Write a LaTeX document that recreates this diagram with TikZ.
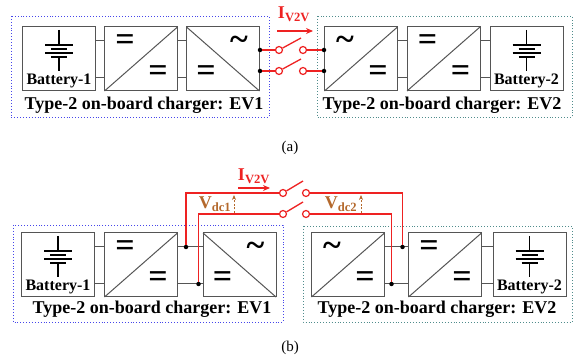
\documentclass[tikz,border=0pt]{standalone}
\usepackage{fontspec}
\setmainfont{Liberation Serif}
\usetikzlibrary{arrows.meta}
\definecolor{evred}{RGB}{238,34,34}
\definecolor{vbrown}{RGB}{180,105,45}
\definecolor{evblue}{RGB}{70,70,235}
\definecolor{evgreen}{RGB}{80,140,140}
\definecolor{boxgray}{RGB}{85,85,85}
\newcommand{\dcsym}{\fontsize{34}{34}\selectfont\bfseries =}
\newcommand{\acsym}{\fontsize{34}{34}\selectfont\bfseries\textasciitilde}

\begin{document}
\begin{tikzpicture}[x=1pt,y=-1pt,
  conv/.style={draw=boxgray,line width=1pt,minimum width=73pt,minimum height=64pt,inner sep=0pt},
  link/.style={draw=boxgray,line width=1pt},
  rwire/.style={draw=evred,line width=1.3pt},
  term/.style={circle,draw=evred,fill=white,line width=1.2pt,minimum size=7pt,inner sep=0pt},
  jdot/.style={circle,fill=black,minimum size=4.5pt,inner sep=0pt},
  ev1box/.style={draw=evblue,dotted,line width=0.9pt},
  ev2box/.style={draw=evgreen,dotted,line width=0.9pt},
  batlbl/.style={font=\bfseries\fontsize{16}{16}\selectfont,inner sep=1pt,anchor=south},
  evlbl/.style={font=\bfseries\fontsize{18}{18}\selectfont},
  cur/.style={evred,font=\bfseries\fontsize{18}{18}\selectfont},
  volt/.style={vbrown,font=\bfseries\fontsize{18}{18}\selectfont},
  iarrow/.style={evred,line width=1.8pt,-{Stealth[length=7pt,width=6pt]}},
  varrow/.style={vbrown,line width=1pt,dash pattern=on 2pt off 1.5pt,-{Stealth[length=5pt,width=4pt]}}]
  \useasboundingbox (0,0) rectangle (574,358);

  % (a) separate chargers
  \draw[ev1box] (11,16) rectangle (269,117);
  \draw[ev2box] (317,16) rectangle (572,117);
  \node[conv] (bat1) at (59,59) {};
  \node[conv] (dcdc1) at (141,59) {};
  \node[conv] (dcac1) at (223,59) {};
  \node[conv] (acdc2) at (361,59) {};
  \node[conv] (dcdc2) at (443.5,59) {};
  \node[conv] (bat2) at (526.5,59) {};
  %
  % (b) dc link
  \draw[ev1box] (13,225) rectangle (283,322);
  \draw[ev2box] (303,226) rectangle (572,322);
  \node[conv] (bat1b) at (58,265) {};
  \node[conv] (dcdc1b) at (141,265) {};
  \node[conv] (dcac1b) at (239.5,265) {};
  \node[conv] (acdc2b) at (348,265) {};
  \node[conv] (dcdc2b) at (445,265) {};
  \node[conv] (bat2b) at (529.5,265) {};
  %%%%%%%%%%%%%%%%%%%%%
  \foreach \l/\r in {bat1/dcdc1,dcdc1/dcac1,acdc2/dcdc2,dcdc2/bat2,
      bat1b/dcdc1b,dcdc1b/dcac1b,acdc2b/dcdc2b,dcdc2b/bat2b}{
    \draw[link] ([yshift=18pt]\l.east) -- ([yshift=18pt]\r.west);
    \draw[link] ([yshift=-19pt]\l.east) -- ([yshift=-19pt]\r.west);
  }
  \foreach \c/\k/\s/\t in {dcdc1/1/\dcsym/\dcsym,dcac1/-1/\acsym/\dcsym,
      acdc2/1/\acsym/\dcsym,dcdc2/1/\dcsym/\dcsym,
      dcdc1b/1/\dcsym/\dcsym,dcac1b/-1/\acsym/\dcsym,
      acdc2b/1/\acsym/\dcsym,dcdc2b/1/\dcsym/\dcsym}{
    \begin{scope}[shift={(\c.center)}]
      \draw[link] (\k*-36.5,32) -- (\k*36.5,-32);
      \node[anchor=base,inner sep=0pt] (\c-up) at (\k*-16,-8.5) {\s};
      \node[anchor=base,inner sep=0pt] (\c-lo) at (\k*17,23) {\t};
    \end{scope}
  }
  \foreach \b in {bat1,bat2,bat1b,bat2b}{
    \begin{scope}[shift={(\b.center)},line width=1.6pt]
      \draw (0,-29) -- (0,-14) (0,-2) -- (0,12);
      \draw (-14,-14) -- (14,-14) (-14,-6) -- (14,-6);
      \draw (-8,-10) -- (8,-10) (-8,-2) -- (8,-2);
    \end{scope}
  }
  \node[batlbl] (bl1) at ([yshift=2pt]bat1.south) {Battery-1};
  \node[batlbl] (bl2) at ([yshift=2pt]bat2.south) {Battery-2};
  \node[batlbl] (bl1b) at ([yshift=2pt]bat1b.south) {Battery-1};
  \node[batlbl] (bl2b) at ([yshift=2pt]bat2b.south) {Battery-2};
  \node[evlbl] (ev1) at (144,105) {Type-2 on-board charger: EV1};
  \node[evlbl] (ev2) at (442,105) {Type-2 on-board charger: EV2};
  \node[evlbl] (ev1b) at (152,309) {Type-2 on-board charger: EV1};
  \node[evlbl] (ev2b) at (437,309) {Type-2 on-board charger: EV2};
  %%%%%%%%%%%%%%%%%%%%%
  % (a) ac side switches
  \node[jdot] (o1) at ([yshift=9pt]dcac1.east) {};
  \node[jdot] (o2) at ([yshift=-12pt]dcac1.east) {};
  \node[jdot] (i1) at ([yshift=9pt]acdc2.west) {};
  \node[jdot] (i2) at ([yshift=-12pt]acdc2.west) {};
  \node[term] (s1l) at (279,50) {};
  \node[term] (s1r) at (303,50) {};
  \node[term] (s2l) at (279,71) {};
  \node[term] (s2r) at (303,71) {};
  \coordinate (k1) at (301,38);
  \coordinate (k2) at (301,59);
  \draw[rwire] (o1) -- (s1l) (s1r) -- (i1);
  \draw[rwire] (o2) -- (s2l) (s2r) -- (i2);
  \draw[rwire] (s1l) -- (k1) (s2l) -- (k2);
  \node[cur] (ia) at (294,14) {I\textsubscript{V2V}};
  \coordinate (ia1) at (277,31);
  \coordinate (ia2) at (313,31);
  \draw[iarrow] (ia1) -- (ia2);
  \node[font=\fontsize{15}{15}\selectfont] (capa) at (290,148) {(a)};
  %%%%%%%%%%%%%%%%%%%%%
  % (b) dc side switches
  \node[jdot] (d1t) at ([xshift=8pt,yshift=18pt]dcdc1b.east) {};
  \node[jdot] (d1b) at ([xshift=20.5pt,yshift=-19pt]dcdc1b.east) {};
  \node[jdot] (d2t) at ([xshift=17.5pt,yshift=18pt]acdc2b.east) {};
  \node[jdot] (d2b) at ([xshift=6.5pt,yshift=-19pt]acdc2b.east) {};
  \node[term] (s3l) at (283,193) {};
  \node[term] (s3r) at (306,193) {};
  \node[term] (s4l) at (283,214) {};
  \node[term] (s4r) at (306,214) {};
  \coordinate (k3) at (303,181);
  \coordinate (k4) at (303,202);
  \draw[rwire] (d1t) |- (s3l) (s3r) -| (d2t);
  \draw[rwire] (d1b) |- (s4l) (s4r) -| (d2b);
  \draw[rwire] (s3l) -- (k3) (s4l) -- (k4);
  \node[cur] (ib) at (254,176) {I\textsubscript{V2V}};
  \coordinate (ib1) at (238,188);
  \coordinate (ib2) at (270,188);
  \draw[iarrow] (ib1) -- (ib2);
  \coordinate (v1a) at (234,213);
  \coordinate (v1b) at (234,195);
  \draw[varrow] (v1a) -- (v1b);
  \node[volt] (v1) at (215,204) {V\textsubscript{dc1}};
  \coordinate (v2a) at (361,213);
  \coordinate (v2b) at (361,195);
  \draw[varrow] (v2a) -- (v2b);
  \node[volt] (v2) at (341,204) {V\textsubscript{dc2}};
  \node[font=\fontsize{15}{15}\selectfont] (capb) at (290,348) {(b)};
\end{tikzpicture}
\end{document}
